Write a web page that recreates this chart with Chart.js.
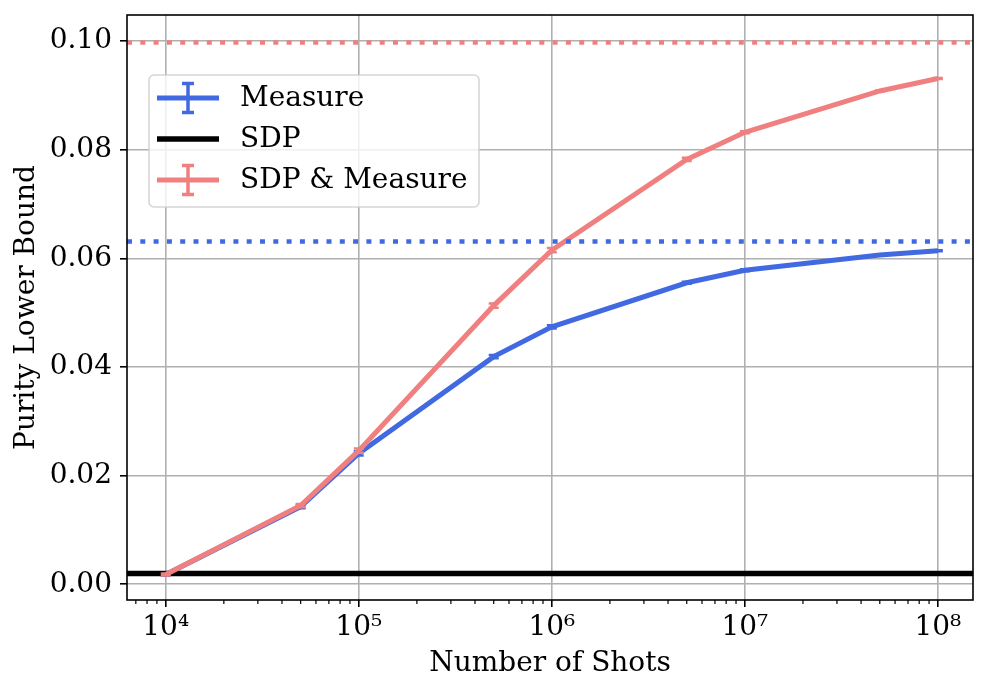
<!DOCTYPE html>
<html>
<head>
<meta charset="utf-8">
<script src="https://cdn.jsdelivr.net/npm/chart.js@4.4.1/dist/chart.umd.min.js"></script>
<style>html,body{margin:0;padding:0;background:#fff;}</style>
</head>
<body>
<canvas id="myChart" width="986" height="693"></canvas>
<script>
const shots = [1e4, 5e4, 1e5, 5e5, 1e6, 5e6, 1e7, 5e7, 1e8];
const measure = [0.0018, 0.0143, 0.0241, 0.0419, 0.0474, 0.0555, 0.0578, 0.0606, 0.0614];
const measureErr = [0.0002, 0.0003, 0.0004, 0.0003, 0.0003, 0.0002, 0.0002, 0.0001, 0.0001];
const sdpMeasure = [0.0018, 0.0145, 0.0246, 0.0513, 0.0615, 0.0782, 0.0832, 0.0908, 0.0931];
const sdpMeasureErr = [0.0002, 0.0003, 0.0004, 0.0004, 0.0004, 0.0003, 0.0002, 0.0001, 0.0001];
const sdpValue = 0.0020;
const measureLimit = 0.0631;
const sdpMeasureLimit = 0.0997;
const xTicks = [1e4, 1e5, 1e6, 1e7, 1e8];
const xTickLabels = ["10⁴", "10⁵", "10⁶", "10⁷", "10⁸"];
const yTicks = [0, 0.02, 0.04, 0.06, 0.08, 0.10];

const xMin = 6300, xMax = 1.52e8;
const yMin = -0.00289, yMax = 0.10478;
const BLUE = "#4169E1";
const RED = "#F08080";
const FONT = "'DejaVu Serif', serif";
const FS = 28;

const toPoints = (xs, ys) => xs.map((x, i) => ({ x: x, y: ys[i] }));
const flat = (v) => [{ x: xMin, y: v }, { x: xMax, y: v }];

// error bars, frame, minor ticks, legend
const extras = {
  id: "extras",
  afterDatasetDraw(chart, args) {
    const ds = chart.data.datasets[args.index];
    if (!ds.errors) return;
    const ctx = chart.ctx;
    const xs = chart.scales.x, ys = chart.scales.y;
    ctx.save();
    ctx.strokeStyle = ds.borderColor;
    ctx.lineWidth = 2.5;
    ds.data.forEach((p, i) => {
      const px = xs.getPixelForValue(p.x);
      const y1 = ys.getPixelForValue(p.y - ds.errors[i]);
      const y2 = ys.getPixelForValue(p.y + ds.errors[i]);
      ctx.beginPath();
      ctx.moveTo(px, y1); ctx.lineTo(px, y2);
      ctx.moveTo(px - 5, y1); ctx.lineTo(px + 5, y1);
      ctx.moveTo(px - 5, y2); ctx.lineTo(px + 5, y2);
      ctx.stroke();
    });
    ctx.restore();
  },
  afterDraw(chart) {
    const ctx = chart.ctx;
    const a = chart.chartArea;
    const xs = chart.scales.x;
    ctx.save();
    // minor ticks
    ctx.strokeStyle = "#000";
    ctx.lineWidth = 1.2;
    for (let e = 3; e <= 8; e++) {
      for (let m = 2; m <= 9; m++) {
        const v = m * Math.pow(10, e);
        if (v < xMin || v > xMax) continue;
        const px = xs.getPixelForValue(v);
        ctx.beginPath();
        ctx.moveTo(px, a.bottom); ctx.lineTo(px, a.bottom + 4);
        ctx.stroke();
      }
    }
    // frame
    ctx.lineWidth = 1.6;
    ctx.strokeRect(a.left, a.top, a.right - a.left, a.bottom - a.top);

    // legend
    const bx = 149, by = 75, bw = 330, bh = 132;
    ctx.fillStyle = "rgba(255,255,255,0.8)";
    ctx.strokeStyle = "rgba(204,204,204,0.8)";
    ctx.lineWidth = 1.6;
    ctx.beginPath();
    ctx.roundRect(bx, by, bw, bh, 5);
    ctx.fill();
    ctx.stroke();
    const items = chart.data.datasets.filter(d => d.inLegend);
    const rows = [98, 139, 180];
    ctx.font = FS + "px " + FONT;
    ctx.textBaseline = "middle";
    items.forEach((d, i) => {
      const y = rows[i];
      ctx.strokeStyle = d.borderColor;
      ctx.lineWidth = d.borderWidth;
      ctx.beginPath();
      ctx.moveTo(157, y); ctx.lineTo(219, y);
      ctx.stroke();
      if (d.errors) {
        ctx.lineWidth = 3.5;
        ctx.beginPath();
        ctx.moveTo(188, y - 14.5); ctx.lineTo(188, y + 14.5);
        ctx.moveTo(182, y - 14.5); ctx.lineTo(194, y - 14.5);
        ctx.moveTo(182, y + 14.5); ctx.lineTo(194, y + 14.5);
        ctx.stroke();
      }
      ctx.fillStyle = "#000";
      ctx.fillText(d.label, 240, y + 1);
    });
    ctx.restore();
  }
};

const ctx = document.getElementById("myChart").getContext("2d");
const myChart = new Chart(ctx, {
  type: "line",
  data: {
    datasets: [
      {
        label: "Measure",
        data: toPoints(shots, measure),
        errors: measureErr,
        inLegend: true,
        borderColor: BLUE,
        borderWidth: 5,
        pointRadius: 0,
        fill: false,
        order: 5,
      },
      {
        label: "SDP",
        data: flat(sdpValue),
        inLegend: true,
        borderColor: "#000",
        borderWidth: 5.5,
        pointRadius: 0,
        fill: false,
        order: 4,
      },
      {
        label: "SDP & Measure",
        data: toPoints(shots, sdpMeasure),
        errors: sdpMeasureErr,
        inLegend: true,
        borderColor: RED,
        borderWidth: 5,
        pointRadius: 0,
        fill: false,
        order: 3,
      },
      {
        label: "Measure limit",
        data: flat(measureLimit),
        borderColor: BLUE,
        borderWidth: 4.5,
        borderDash: [5, 8.3],
        borderCapStyle: "butt",
        pointRadius: 0,
        fill: false,
        order: 2,
      },
      {
        label: "SDP & Measure limit",
        data: flat(sdpMeasureLimit),
        borderColor: RED,
        borderWidth: 4.5,
        borderDash: [5, 8.3],
        borderCapStyle: "butt",
        pointRadius: 0,
        fill: false,
        order: 1,
      },
    ],
  },
  options: {
    responsive: false,
    animation: false,
    devicePixelRatio: 1,
    layout: { padding: { top: 15, right: 13, left: 0, bottom: 0 } },
    plugins: {
      legend: { display: false },
      tooltip: { enabled: false },
    },
    scales: {
      x: {
        type: "logarithmic",
        min: xMin,
        max: xMax,
        afterFit: (s) => { s.height = 93; s.paddingLeft = 0; s.paddingRight = 0; },
        afterBuildTicks: (s) => { s.ticks = xTicks.map(v => ({ value: v })); },
        ticks: {
          autoSkip: false,
          maxRotation: 0,
          padding: 4,
          color: "#000",
          font: { family: FONT, size: FS },
          callback: (v) => xTickLabels[xTicks.indexOf(v)],
        },
        grid: { color: "#b0b0b0", lineWidth: 1.6, tickColor: "#000", tickLength: 7 },
        border: { display: false },
        title: {
          display: true,
          text: "Number of Shots",
          color: "#000",
          font: { family: FONT, size: FS },
          padding: { top: 0, bottom: 12 },
        },
      },
      y: {
        type: "linear",
        min: yMin,
        max: yMax,
        afterFit: (s) => { s.width = 127; s.paddingTop = 0; s.paddingBottom = 0; },
        afterBuildTicks: (s) => { s.ticks = yTicks.map(v => ({ value: v })); },
        ticks: {
          padding: 8,
          color: "#000",
          font: { family: FONT, size: FS },
          callback: (v) => v.toFixed(2),
        },
        grid: { color: "#b0b0b0", lineWidth: 1.6, tickColor: "#000", tickLength: 7 },
        border: { display: false },
        title: {
          display: true,
          text: "Purity Lower Bound",
          color: "#000",
          font: { family: FONT, size: FS },
          padding: { top: 10, bottom: 0 },
        },
      },
    },
  },
  plugins: [extras],
});
</script>
</body>
</html>
